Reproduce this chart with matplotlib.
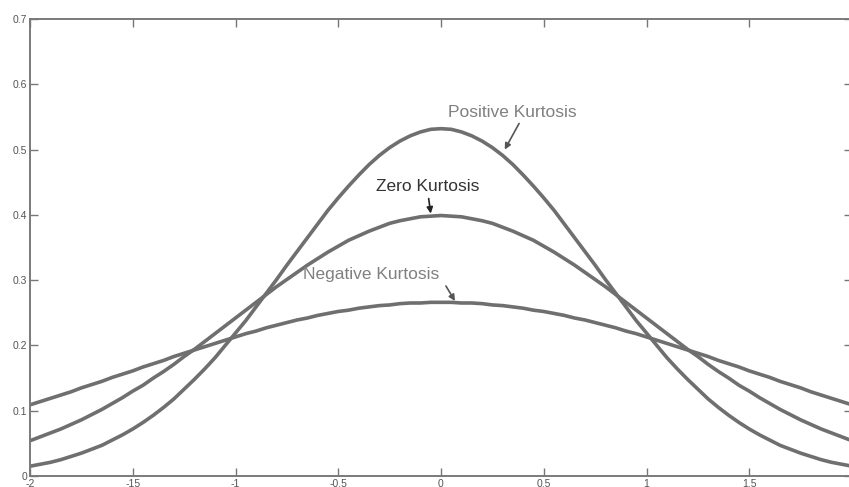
import numpy as np
import matplotlib
matplotlib.use("Agg")
import matplotlib.pyplot as plt

x_vals = [-2.0, -1.95, -1.9, -1.85, -1.8, -1.75, -1.7, -1.65, -1.6, -1.55,
          -1.5, -1.45, -1.4, -1.35, -1.3, -1.25, -1.2, -1.15, -1.1, -1.05,
          -1.0, -0.95, -0.9, -0.85, -0.8, -0.75, -0.7, -0.65, -0.6, -0.55,
          -0.5, -0.45, -0.4, -0.35, -0.3, -0.25, -0.2, -0.15, -0.1, -0.05,
          0.0,
          0.05, 0.1, 0.15, 0.2, 0.25, 0.3, 0.35, 0.4, 0.45, 0.5,
          0.55, 0.6, 0.65, 0.7, 0.75, 0.8, 0.85, 0.9, 0.95, 1.0,
          1.05, 1.1, 1.15, 1.2, 1.25, 1.3, 1.35, 1.4, 1.45, 1.5,
          1.55, 1.6, 1.65, 1.7, 1.75, 1.8, 1.85, 1.9, 1.95, 2.0]

positive_kurtosis = [0.015, 0.018, 0.021, 0.025, 0.030, 0.035, 0.041, 0.047, 0.055, 0.063,
                     0.072, 0.082, 0.093, 0.105, 0.118, 0.133, 0.148, 0.164, 0.181, 0.200,
                     0.219, 0.238, 0.259, 0.280, 0.301, 0.323, 0.344, 0.365, 0.386, 0.407,
                     0.426, 0.444, 0.461, 0.477, 0.491, 0.503, 0.513, 0.521, 0.527, 0.531,
                     0.532,
                     0.531, 0.527, 0.521, 0.513, 0.503, 0.491, 0.477, 0.461, 0.444, 0.426,
                     0.407, 0.386, 0.365, 0.344, 0.323, 0.301, 0.280, 0.259, 0.238, 0.219,
                     0.200, 0.181, 0.164, 0.148, 0.133, 0.118, 0.105, 0.093, 0.082, 0.072,
                     0.063, 0.055, 0.047, 0.041, 0.035, 0.030, 0.025, 0.021, 0.018, 0.015]

zero_kurtosis = [0.054, 0.060, 0.066, 0.072, 0.079, 0.086, 0.094, 0.102, 0.111, 0.120,
                 0.130, 0.139, 0.150, 0.160, 0.171, 0.183, 0.194, 0.206, 0.218, 0.230,
                 0.242, 0.254, 0.266, 0.278, 0.290, 0.301, 0.312, 0.323, 0.333, 0.343,
                 0.352, 0.361, 0.368, 0.375, 0.381, 0.387, 0.391, 0.394, 0.397, 0.398,
                 0.399,
                 0.398, 0.397, 0.394, 0.391, 0.387, 0.381, 0.375, 0.368, 0.361, 0.352,
                 0.343, 0.333, 0.323, 0.312, 0.301, 0.290, 0.278, 0.266, 0.254, 0.242,
                 0.230, 0.218, 0.206, 0.194, 0.183, 0.171, 0.160, 0.150, 0.139, 0.130,
                 0.120, 0.111, 0.102, 0.094, 0.086, 0.079, 0.072, 0.066, 0.060, 0.054]

negative_kurtosis = [0.109, 0.114, 0.119, 0.124, 0.129, 0.135, 0.140, 0.145, 0.151, 0.156,
                     0.161, 0.167, 0.172, 0.177, 0.183, 0.188, 0.193, 0.198, 0.203, 0.208,
                     0.213, 0.218, 0.222, 0.227, 0.231, 0.235, 0.239, 0.242, 0.246, 0.249,
                     0.252, 0.254, 0.257, 0.259, 0.261, 0.262, 0.264, 0.265, 0.265, 0.266,
                     0.266,
                     0.266, 0.265, 0.265, 0.264, 0.262, 0.261, 0.259, 0.257, 0.254, 0.252,
                     0.249, 0.246, 0.242, 0.239, 0.235, 0.231, 0.227, 0.222, 0.218, 0.213,
                     0.208, 0.203, 0.198, 0.193, 0.188, 0.183, 0.177, 0.172, 0.167, 0.161,
                     0.156, 0.151, 0.145, 0.140, 0.135, 0.129, 0.124, 0.119, 0.114, 0.109]

x_ticks = [-2, -1.5, -1, -0.5, 0, 0.5, 1, 1.5]
x_tick_labels = ["-2", "-15", "-1", "-0.5", "0", "0.5", "1", "1.5"]
y_ticks = [0, 0.1, 0.2, 0.3, 0.4, 0.5, 0.6, 0.7]
y_tick_labels = ["0", "0.1", "0.2", "0.3", "0.4", "0.5", "0.6", "0.7"]

plt.rcParams['font.family'] = ['Liberation Sans', 'DejaVu Sans']

fig = plt.figure(figsize=(8.49, 4.87), dpi=100)
ax = fig.add_axes([30/849, 11/487, 822/849, 457/487])

line_color = "#6f6f6f"
for ys in (positive_kurtosis, zero_kurtosis, negative_kurtosis):
    ax.plot(x_vals, ys, color=line_color, lw=2.6, solid_capstyle='butt',
            solid_joinstyle='round')

ax.set_xlim(-2, 2)
ax.set_ylim(0, 0.7)
ax.set_xticks(x_ticks)
ax.set_xticklabels(x_tick_labels)
ax.set_yticks(y_ticks)
ax.set_yticklabels(y_tick_labels)
ax.tick_params(direction='in', top=True, right=True, length=6, width=1,
               color="#777777", labelsize=7.5, labelcolor="#555555", pad=2)
for sp in ax.spines.values():
    sp.set_color("#7a7a7a")
    sp.set_linewidth(1.4)

arrow_props = dict(arrowstyle='-|>', color="#555555", lw=1.2, mutation_scale=9,
                   shrinkA=0, shrinkB=0)
ax.text(0.034, 0.557, "Positive Kurtosis", color="#808080", fontsize=12.5,
        va='center', ha='left')
ax.annotate("", xy=(0.31, 0.50), xytext=(0.38, 0.54), arrowprops=arrow_props)
ax.text(-0.316, 0.443, "Zero Kurtosis", color="#333333", fontsize=12.5,
        va='center', ha='left')
ax.annotate("", xy=(-0.05, 0.402), xytext=(-0.06, 0.425),
            arrowprops=dict(arrowstyle='-|>', color="#222222", lw=1.2,
                            mutation_scale=9, shrinkA=0, shrinkB=0))
ax.text(-0.672, 0.309, "Negative Kurtosis", color="#808080", fontsize=12.5,
        va='center', ha='left')
ax.annotate("", xy=(0.068, 0.268), xytext=(0.024, 0.291), arrowprops=arrow_props)

fig.savefig("out.png", dpi=100)
